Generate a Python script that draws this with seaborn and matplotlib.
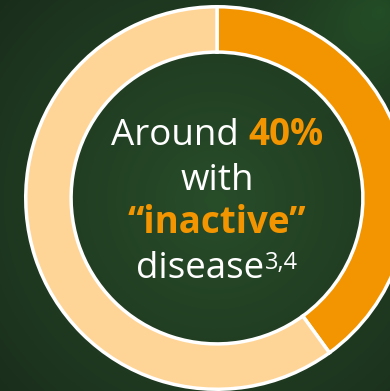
import numpy as np
import matplotlib
matplotlib.use("Agg")
import matplotlib.pyplot as plt
import seaborn as sns
from matplotlib.transforms import IdentityTransform

# ---- data ----
labels = ["inactive disease", "other"]
values = [40, 60]
colors = ["#F39501", "#FFD597"]

line1 = [("Around ", "#FFFFFF", "normal"), ("40%", "#F39501", "bold")]
line2 = [("with", "#FFFFFF", "normal")]
line3 = [("\u201cinactive\u201d", "#F39501", "bold")]
line4_main = "disease"
line4_sup = "3,4"

sns.set_theme(style="white")
plt.rcParams['font.family'] = ['Open Sans', 'DejaVu Sans']

W, H = 390, 391
fig = plt.figure(figsize=(W / 100, H / 100), dpi=100)

# background gradient
bg = fig.add_axes([0, 0, 1, 1])
yy, xx = np.mgrid[0:H, 0:W]
base = np.array([0x19, 0x2C, 0x1B]) / 255
glow = np.array([0x28, 0x4D, 0x29]) / 255
spot = np.array([0x22, 0x4E, 0x25]) / 255
d1 = np.sqrt((xx - 215) ** 2 + (yy - 200) ** 2) / 300
d2 = np.sqrt((xx - 380) ** 2 + (yy - 10) ** 2) / 120
w1 = np.clip(1 - d1, 0, 1) ** 0.9
w2 = np.clip(1 - d2, 0, 1) ** 1.2
img = base[None, None, :] * np.ones((H, W, 1))
img = img + (glow - base)[None, None, :] * w1[..., None]
img = img + (spot - base)[None, None, :] * w2[..., None] * 0.8
bg.imshow(np.clip(img, 0, 1), extent=[0, W, H, 0], aspect="auto")
bg.set_xlim(0, W)
bg.set_ylim(H, 0)
bg.axis("off")

# donut
cx, cy, R = 217, 198, 193
ax = fig.add_axes([(cx - R) / W, (H - cy - R) / H, 2 * R / W, 2 * R / H])
ax.patch.set_alpha(0)
ax.pie(values, colors=colors, startangle=90, counterclock=False,
       radius=0.991,
       wedgeprops=dict(width=0.235, edgecolor="white", linewidth=2.5))
ax.set_xlim(-1, 1)
ax.set_ylim(-1, 1)
ax.set_aspect("equal", adjustable="box")
ax.axis("off")

FS = 26.5
renderer = fig.canvas.get_renderer()


def place_line(segs, ybase, xc=217):
    texts = []
    for s, c, wgt, fs, dy in segs:
        t = fig.text(0, 0, s, color=c, fontweight=wgt, fontsize=fs,
                     transform=IdentityTransform(), ha="left", va="baseline")
        texts.append((t, dy))
    widths = []
    for t, dy in texts:
        bb = t.get_window_extent(renderer)
        widths.append(bb.width)
    total = sum(widths)
    x = xc - total / 2
    for (t, dy), w in zip(texts, widths):
        t.set_position((x, H - ybase + dy))
        x += w


def seg(lst):
    return [(s, c, w, FS, 0) for s, c, w in lst]


place_line(seg(line1), 145)
place_line(seg(line2), 190)
place_line(seg(line3), 233)
place_line([(line4_main, "#FFFFFF", "normal", FS, 0),
            (line4_sup, "#FFFFFF", "normal", 17, 9)], 278)

fig.savefig("out.png", dpi=100)
